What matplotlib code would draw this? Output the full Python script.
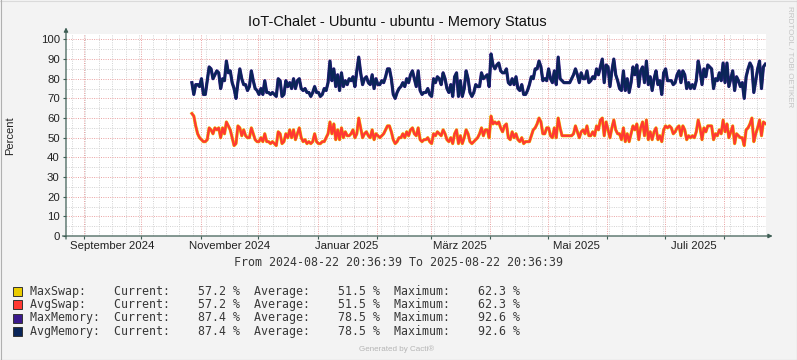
import matplotlib
matplotlib.use("Agg")
import matplotlib.pyplot as plt
import matplotlib.dates as mdates
from matplotlib.patches import Rectangle
from matplotlib.lines import Line2D
from datetime import datetime, timedelta

# ---------------- data ----------------
title = "IoT-Chalet - Ubuntu - ubuntu - Memory Status"
range_start = datetime(2024, 8, 22, 20, 36, 39)
range_end = datetime(2025, 8, 22, 20, 36, 39)
data_start = datetime(2024, 10, 27, 12, 0)

avg_memory = [
    78, 72, 77, 77, 76, 80, 72, 72, 79, 86,
    85, 80, 82, 84, 83, 75, 80, 79, 89, 83,
    84, 78, 75, 70, 78, 85, 80, 77, 77, 74,
    76, 84, 79, 75, 74, 72, 75, 72, 79, 73,
    73, 72, 73, 72, 71, 80, 79, 71, 72,
    79, 76, 78, 75, 80, 75, 79, 80, 75, 74,
    75, 73, 73, 71, 73, 76, 73, 73, 71, 72,
    75, 74, 78, 89, 79, 85, 76, 82, 74, 83,
    76, 79, 77, 80, 79, 81, 76, 84, 91, 83,
    77, 80, 81, 78, 77, 82, 75, 80, 77, 77,
    79, 78, 81, 85, 85, 80, 72, 70, 73, 75,
    76, 78, 76, 80, 78, 82, 84, 80, 76, 84,
    74, 72, 73, 73, 75, 72, 71, 80, 78, 81,
    80, 77, 83, 80, 75, 73, 77, 71, 81, 83,
    71, 79, 71, 75, 84, 80, 73, 71, 73,
    77, 76, 76, 83, 80, 81, 82, 76, 92.6, 87,
    85, 87, 88, 84, 83, 83, 85, 78, 77, 80,
    77, 81, 75, 74, 77, 72, 72, 74, 77, 81,
    80, 85, 85, 89, 86, 79, 80, 79, 85, 80,
    78, 84, 77, 91, 80, 79, 78, 78, 78,
    78, 80, 82, 85, 82, 78, 83, 80, 80, 84,
    78, 79, 81, 80, 85, 82, 86, 90, 78, 87,
    86, 76, 84, 90, 82, 79, 75, 74, 84, 74,
    80, 73, 78, 86, 82, 87, 76, 84, 86, 78,
    89, 77, 81, 74, 80, 84, 77, 79, 72, 83,
    85,
    79, 79, 79, 77, 78, 82, 84, 78, 84, 82,
    75, 78, 75, 77, 75, 79, 89, 84, 77, 85,
    81, 87, 86, 85, 75, 80, 79, 83, 79, 88,
    78, 88, 76, 80, 84, 74, 81, 79, 76, 78,
    70, 81, 85, 88, 86, 73, 79, 85, 89, 75,
    86, 87.4,
]
max_memory = list(avg_memory)

avg_swap = [
    62.3, 61, 56, 52, 50, 49, 48, 48, 49, 55,
    54, 52, 55, 54, 55, 50, 55, 52, 58, 56,
    54, 50, 46, 47, 56, 55, 51, 54, 51, 50,
    50, 55, 52, 49, 48, 48, 50, 48, 52, 48,
    48, 47, 48, 47, 46, 53, 52, 47, 48,
    52, 50, 54, 50, 54, 49, 52, 55, 50, 48,
    49, 47, 48, 47, 48, 52, 48, 47, 47, 48,
    48, 50, 52, 58, 52, 57, 49, 54, 49, 55,
    50, 53, 51, 51, 52, 54, 50, 52, 60, 55,
    50, 52, 53, 51, 50, 54, 49, 52, 51, 50,
    51, 52, 54, 56, 56, 53, 49, 47, 48, 50,
    50, 52, 50, 53, 51, 54, 55, 52, 51, 55,
    49, 48, 49, 49, 50, 48, 47, 52, 51, 53,
    52, 51, 54, 52, 49, 48, 50, 47, 52, 54,
    47, 51, 47, 50, 54, 52, 48, 47, 48,
    49, 50, 52, 55, 51, 54, 54, 50, 61, 57,
    58, 57, 58, 55, 53, 56, 57, 50, 49, 53,
    50, 52, 49, 48, 50, 47, 48, 48, 48, 51,
    54, 55, 57, 60, 58, 52, 52, 55, 55, 51,
    50, 55, 50, 60, 55, 51, 51, 51, 51,
    51, 51, 52, 56, 53, 50, 53, 54, 52, 56,
    51, 51, 53, 51, 56, 54, 59, 60, 51, 58,
    54, 50, 55, 59, 54, 52, 52, 49, 55, 48,
    52, 48, 52, 56, 54, 57, 49, 55, 58, 51,
    59, 49, 53, 49, 53, 55, 49, 51, 48, 54,
    56,
    55, 56, 55, 52, 53, 55, 56, 51, 56, 54,
    49, 51, 50, 51, 50, 53, 59, 55, 49, 55,
    53, 56, 56, 56, 49, 52, 51, 54, 52, 59,
    53, 57, 50, 53, 56, 47, 52, 51, 50, 50,
    46, 54, 55, 57, 60, 48, 52, 55, 59, 51,
    58, 57.2,
]
max_swap = list(avg_swap)

y_ticks = [0, 10, 20, 30, 40, 50, 60, 70, 80, 90, 100]
month_labels = ["September 2024", "November 2024", "Januar 2025",
                "März 2025", "Mai 2025", "Juli 2025"]
month_label_dates = [datetime(2024, 9, 16), datetime(2024, 11, 16), datetime(2025, 1, 16),
                     datetime(2025, 3, 16), datetime(2025, 5, 16), datetime(2025, 7, 16)]

legend_names = ["MaxSwap:", "AvgSwap:", "MaxMemory:", "AvgMemory:"]
legend_current = [57.2, 57.2, 87.4, 87.4]
legend_average = [51.5, 51.5, 78.5, 78.5]
legend_maximum = [62.3, 62.3, 92.6, 92.6]
legend_colors = ["#EACC00", "#FF3932", "#3B1A8C", "#0A2558"]

# ---------------- figure ----------------
W, H = 797, 360
plt.rcParams['font.family'] = ['Liberation Sans', 'DejaVu Sans']
fig = plt.figure(figsize=(W / 100, H / 100), dpi=100, facecolor="#F3F3F3")

L, R, B, T = 66, 766, 236, 33.5
ax = fig.add_axes([L / W, 1 - B / H, (R - L) / W, (B - T) / H])
ax.set_facecolor("white")
x0 = mdates.date2num(range_start)
x1 = mdates.date2num(range_end)
ax.set_xlim(x0, x1)
ax.set_ylim(0, 103)

minor_c = "#D4D4D4"
major_c = "#EBA6A6"
dot = (0, (1, 1.3))
# horizontal grid
for v in range(5, 104, 5):
    if v % 10:
        ax.axhline(v, color=minor_c, lw=0.72, ls=dot, zorder=1)
for v in y_ticks[1:]:
    ax.axhline(v, color=major_c, lw=0.72, ls=dot, zorder=1.2)
# vertical grid: weekly (Mondays) and monthly
d = datetime(2024, 8, 26)
while d < range_end:
    ax.axvline(mdates.date2num(d), color=minor_c, lw=0.72, ls=dot, zorder=1)
    d += timedelta(days=7)
month_starts = []
y, m = 2024, 9
while datetime(y, m, 1) < range_end:
    month_starts.append(mdates.date2num(datetime(y, m, 1)))
    m += 1
    if m > 12:
        m, y = 1, y + 1
for ms in month_starts:
    ax.axvline(ms, color=major_c, lw=0.72, ls=dot, zorder=1.2)

# data lines
xs = [mdates.date2num(data_start + timedelta(days=i)) for i in range(len(avg_memory))]
ax.plot(xs, max_swap, color=legend_colors[0], lw=2.3, zorder=3)
ax.plot(xs, avg_swap, color=legend_colors[1], lw=1.7, zorder=4)
ax.plot(xs, max_memory, color=legend_colors[2], lw=2.3, zorder=5)
ax.plot(xs, avg_memory, color=legend_colors[3], lw=1.7, zorder=6)

# axes / ticks
axis_c = "#3F5F55"
for s in ax.spines.values():
    s.set_visible(False)
ax.set_yticks(y_ticks)
ax.set_yticklabels([str(v) for v in y_ticks])
ax.tick_params(axis='y', length=2.5, width=0.8, color=axis_c, pad=2,
               labelsize=8.2, labelcolor="#222222")
ax.set_xticks([mdates.date2num(dd) for dd in month_label_dates])
ax.set_xticklabels(month_labels)
ax.set_xticks(month_starts, minor=True)
ax.tick_params(axis='x', which='major', length=0, pad=3.5, labelsize=8.2, labelcolor="#222222")
ax.tick_params(axis='x', which='minor', length=2.5, width=0.8, color=axis_c)
ax.tick_params(axis='y', which='minor', left=False)

ax.annotate("", xy=(1.0095, 0), xytext=(-0.005, 0), xycoords='axes fraction',
            arrowprops=dict(arrowstyle='-|>', color=axis_c, lw=0.9,
                            mutation_scale=6, shrinkA=0, shrinkB=0), zorder=10)
ax.annotate("", xy=(0, 1.03), xytext=(0, -0.015), xycoords='axes fraction',
            arrowprops=dict(arrowstyle='-|>', color=axis_c, lw=0.9,
                            mutation_scale=6, shrinkA=0, shrinkB=0), zorder=10)

# texts
fig.text(397 / W, 1 - 22 / H, title, ha='center', va='center', fontsize=10.5, color="#111111")
fig.text(10 / W, 1 - 136 / H, "Percent", rotation=90, ha='center', va='center',
         fontsize=8, color="#222222")
fig.text(789 / W, 1 - 57 / H, "RRDTOOL / TOBI OETIKER", rotation=-90, ha='center',
         va='center', fontsize=5.8, color="#C4C4C4")
fig.text(398 / W, 1 - 263 / H,
         "From 2024-08-22 20:36:39 To 2025-08-22 20:36:39",
         ha='center', va='center', fontsize=8.35, family='DejaVu Sans Mono', color="#383838")

row_y = [291, 304.5, 318, 331.5]
for name, cur, avg, mx, col, yy in zip(legend_names, legend_current, legend_average,
                                       legend_maximum, legend_colors, row_y):
    fig.add_artist(Rectangle((13 / W, 1 - (yy + 4.5) / H), 9 / W, 9 / H,
                             transform=fig.transFigure, facecolor=col,
                             edgecolor="#333333", lw=0.7))
    line = f"{name:<12}Current:{cur:>8.1f} %  Average:{avg:>8.1f} %  Maximum:{mx:>8.1f} %"
    fig.text(30 / W, 1 - yy / H, line, ha='left', va='center', fontsize=8.35,
             family='DejaVu Sans Mono', color="#383838")

fig.text(397 / W, 1 - 349 / H, "Generated by Cacti®", ha='center', va='center',
         fontsize=5.8, color="#B5B5B5")

# border
fig.add_artist(Line2D([0, 1], [1 - 0.5 / H, 1 - 0.5 / H], transform=fig.transFigure, color="#DADADA", lw=0.8))
fig.add_artist(Line2D([0.5 / W, 0.5 / W], [0, 1], transform=fig.transFigure, color="#B0B0B0", lw=0.8))
fig.add_artist(Line2D([1 - 0.5 / W, 1 - 0.5 / W], [0, 1], transform=fig.transFigure, color="#A0A0A0", lw=0.8))
fig.add_artist(Line2D([0, 1], [0.5 / H, 0.5 / H], transform=fig.transFigure, color="#A0A0A0", lw=0.8))

fig.savefig("out.png", dpi=100, facecolor=fig.get_facecolor())
